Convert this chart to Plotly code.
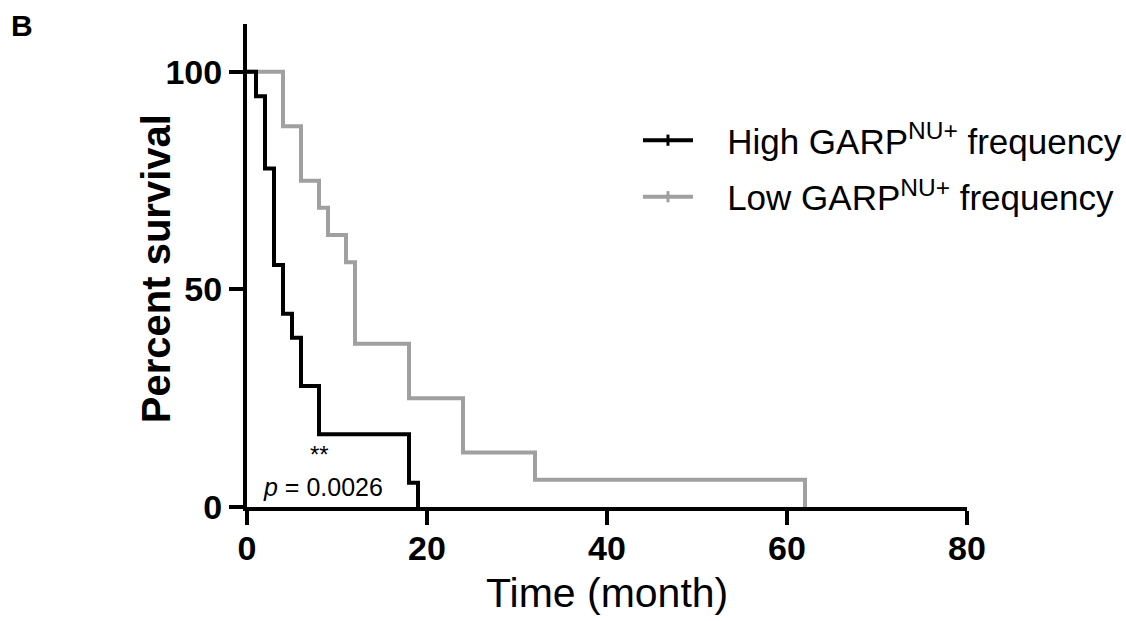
import plotly.graph_objects as go

# ---- data ----
high_time = [0, 1, 2, 3, 4, 5, 6, 8, 18, 19]
high_surv = [100, 94.4, 77.8, 55.6, 44.4, 38.9, 27.8, 16.7, 5.6, 0]
low_time = [0, 4, 6, 8, 9, 11, 12, 18, 24, 32, 62]
low_surv = [100, 87.5, 75, 68.75, 62.5, 56.25, 37.5, 25, 12.5, 6.25, 0]

x_ticks = [0, 20, 40, 60, 80]
y_ticks = [0, 50, 100]

high_name = "High GARP<sup>NU+</sup> frequency"
low_name = "Low GARP<sup>NU+</sup> frequency"
p_text = "<i>p</i> = 0.0026"
sig_text = "**"

BLACK = "#000000"
GRAY = "#a0a0a0"
FONT = "Liberation Sans, Arial, sans-serif"
GAP = "\u00a0\u00a0\u00a0"

fig = go.Figure()

# curves (gray under black)
fig.add_trace(go.Scatter(x=low_time, y=low_surv, mode="lines", line=dict(color=GRAY, width=4, shape="hv"),
                         showlegend=False, hoverinfo="skip"))
fig.add_trace(go.Scatter(x=high_time, y=high_surv, mode="lines", line=dict(color=BLACK, width=4, shape="hv"),
                         showlegend=False, hoverinfo="skip"))

# legend entries
fig.add_trace(go.Scatter(x=[None], y=[None], mode="lines+markers", name=GAP + high_name, legendgroup="h",
                         line=dict(color=BLACK, width=4),
                         marker=dict(symbol="line-ns-open", size=8, line=dict(color=BLACK, width=3))))
fig.add_trace(go.Scatter(x=[None], y=[None], mode="lines+markers", name=GAP + low_name, legendgroup="l",
                         line=dict(color=GRAY, width=4),
                         marker=dict(symbol="line-ns-open", size=8, line=dict(color=GRAY, width=3))))

fig.update_layout(
    width=1126, height=621,
    margin=dict(l=247, r=159, t=24, b=114, autoexpand=False),
    paper_bgcolor="white", plot_bgcolor="white",
    font=dict(family=FONT, color="black"),
    showlegend=True,
    legend=dict(x=0.543, y=0.82, xanchor="left", yanchor="top",
                font=dict(size=35, family=FONT, color="black"),
                bgcolor="rgba(0,0,0,0)", tracegroupgap=8, itemwidth=50,
                traceorder="grouped"),
    xaxis=dict(range=[0, 80], tickvals=x_ticks, ticktext=[str(v) for v in x_ticks],
               showgrid=False, zeroline=False, showline=True, linecolor="black", linewidth=4,
               ticks="outside", ticklen=14, tickwidth=4, tickcolor="black", ticklabelstandoff=-6,
               tickfont=dict(size=34, family=FONT, weight="bold", color="black")),
    yaxis=dict(range=[0, 111], tickvals=y_ticks, ticktext=[str(v) for v in y_ticks],
               showgrid=False, zeroline=False, showline=True, linecolor="black", linewidth=4,
               ticks="outside", ticklen=14, tickwidth=4, tickcolor="black",
               tickfont=dict(size=34, family=FONT, weight="bold", color="black")),
    annotations=[
        dict(text="Percent survival", xref="paper", yref="paper", x=-0.126, y=0.493,
             xanchor="center", yanchor="middle", textangle=-90, showarrow=False,
             font=dict(size=40, family=FONT, weight="bold", color="black")),
        dict(text="Time (month)", xref="paper", yref="paper", x=0.5, y=-0.178,
             xanchor="center", yanchor="middle", showarrow=False,
             font=dict(size=41, family=FONT, color="black")),
        dict(text="B", xref="paper", yref="paper", x=-0.331, y=1.035,
             xanchor="left", yanchor="top", showarrow=False,
             font=dict(size=30, family=FONT, weight="bold", color="black")),
        dict(text=sig_text, xref="x", yref="y", x=8, y=12,
             xanchor="center", yanchor="middle", showarrow=False,
             font=dict(size=24, family=FONT, color="black")),
        dict(text=p_text, xref="x", yref="y", x=8.4, y=4.6,
             xanchor="center", yanchor="middle", showarrow=False,
             font=dict(size=25, family=FONT, color="black")),
    ],
)

fig.write_html("out.html")
